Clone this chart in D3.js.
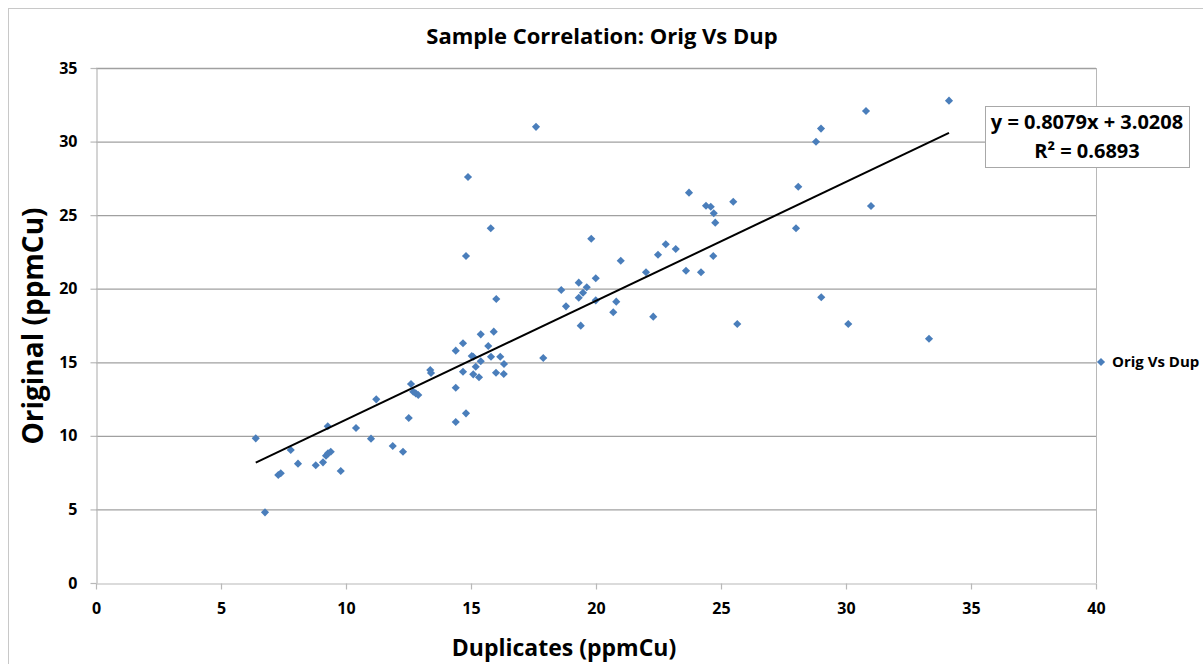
<!DOCTYPE html>
<html>
<head>
<meta charset="utf-8">
<script src="https://cdn.jsdelivr.net/npm/d3@7"></script>
<style>
  body { margin: 0; background: #fff; }
  svg text { font-family: "Open Sans", sans-serif; font-weight: bold; fill: #000; }
</style>
</head>
<body>
<div id="chart"></div>
<script>
// duplicates (x) vs original (y), ppmCu
var dupVals = [6.39, 6.76, 7.29, 7.39, 7.79, 8.08, 8.79, 9.08, 9.20, 9.28, 9.39, 9.27, 9.79, 10.40, 11.00,
    11.21, 11.87, 12.28, 12.51, 12.60, 12.69, 12.79, 12.89, 13.37, 13.40,
    15.79, 14.80, 16.01, 18.61, 18.80, 15.39, 15.91, 14.68, 14.39, 15.69, 15.03, 15.09, 15.80, 16.17, 17.89,
    15.39, 15.19, 16.32, 14.68, 16.00, 16.31, 15.09, 15.32, 14.39, 14.80, 14.39, 14.88, 17.60,
    19.81, 24.77, 22.79, 23.19, 22.48, 20.99, 24.69, 22.00, 23.60, 24.20, 19.99, 19.31, 19.63, 19.48,
    19.31, 19.99, 20.81, 20.69, 22.29, 19.39, 25.65,
    23.72, 28.09, 25.49, 24.40, 24.59, 24.71, 31.00, 28.00, 29.01, 30.09,
    34.12, 30.80, 29.00, 28.80, 33.32];
var origVals = [9.83, 4.80, 7.34, 7.46, 9.04, 8.11, 8.00, 8.20, 8.65, 8.81, 8.92, 10.65, 7.61, 10.53, 9.81,
    12.48, 9.31, 8.92, 11.21, 13.52, 13.00, 12.89, 12.78, 14.48, 14.27,
    24.11, 22.22, 19.30, 19.91, 18.80, 16.90, 17.08, 16.29, 15.79, 16.11, 15.43, 15.38, 15.38, 15.38, 15.29,
    15.07, 14.70, 14.88, 14.36, 14.29, 14.20, 14.18, 13.98, 13.27, 11.53, 10.94, 27.59, 31.00,
    23.40, 24.49, 23.02, 22.70, 22.31, 21.90, 22.22, 21.12, 21.22, 21.12, 20.71, 20.41, 20.10, 19.73,
    19.39, 19.21, 19.12, 18.40, 18.10, 17.49, 17.60,
    26.53, 26.93, 25.91, 25.64, 25.57, 25.13, 25.62, 24.11, 19.42, 17.60,
    32.78, 32.08, 30.88, 29.99, 16.60];

var xTicks = [0, 5, 10, 15, 20, 25, 30, 35, 40];
var yTicks = [0, 5, 10, 15, 20, 25, 30, 35];
var slope = 0.8079, intercept = 3.0208;
var eqLines = ["y = 0.8079x + 3.0208", "R² = 0.6893"];
var seriesName = "Orig Vs Dup";

var width = 1203, height = 664;
var mLeft = 96, mTop = 68, plotW = 1000, plotH = 515;

var svg = d3.select("#chart").append("svg")
    .attr("width", width)
    .attr("height", height);

// outer chart border
svg.append("rect")
    .attr("x", 8.5).attr("y", 8.5)
    .attr("width", width).attr("height", height + 20)
    .attr("fill", "#fff")
    .attr("stroke", "#c8c8c8");

var x = d3.scaleLinear().domain([0, 40]).range([mLeft, mLeft + plotW]);
var y = d3.scaleLinear().domain([0, 35]).range([mTop + plotH, mTop]);

// gridlines
svg.selectAll("line.grid")
    .data(yTicks.slice(1))
    .enter()
    .append("line")
    .attr("class", "grid")
    .attr("x1", mLeft).attr("x2", mLeft + plotW)
    .attr("y1", function(d){ return y(d) + 0.5; })
    .attr("y2", function(d){ return y(d) + 0.5; })
    .attr("stroke", "#a0a0a0")
    .attr("stroke-width", 1.3);

// right side of the plot area
svg.append("line")
    .attr("x1", mLeft + plotW + 0.5).attr("x2", mLeft + plotW + 0.5)
    .attr("y1", mTop).attr("y2", mTop + plotH)
    .attr("stroke", "#b8b8b8");

var xAxis = svg.append("g")
    .attr("transform", "translate(0," + (mTop + plotH + 0.5) + ")")
    .call(d3.axisBottom(x).tickValues(xTicks).tickSize(6).tickPadding(13).tickSizeOuter(0));
var yAxis = svg.append("g")
    .attr("transform", "translate(" + (mLeft + 0.5) + ",0)")
    .call(d3.axisLeft(y).tickValues(yTicks).tickSize(6).tickPadding(13).tickSizeOuter(0));

[xAxis, yAxis].forEach(function(g){
    g.selectAll("path, line").attr("stroke", "#b8b8b8").attr("stroke-width", 1.2);
    g.selectAll("text").style("font-size", "16px").style("font-family", "'Open Sans', sans-serif").style("font-weight", "bold").attr("fill", "#000");
});

// points
var pts = dupVals.map(function(d, i){ return {x: d, y: origVals[i]}; });
var diamond = d3.symbol().type(d3.symbolDiamond2).size(42);

svg.selectAll("path.pt")
    .data(pts)
    .enter()
    .append("path")
    .attr("class", "pt")
    .attr("d", diamond)
    .attr("transform", function(d){ return "translate(" + x(d.x) + "," + y(d.y) + ")"; })
    .attr("fill", "#4a7ebb");

// linear trend line over data range
var xMin = d3.min(dupVals), xMax = d3.max(dupVals);
svg.append("line")
    .attr("x1", x(xMin)).attr("y1", y(slope * xMin + intercept))
    .attr("x2", x(xMax)).attr("y2", y(slope * xMax + intercept))
    .attr("stroke", "#000")
    .attr("stroke-width", 2);

// equation box
svg.append("rect")
    .attr("x", 985.5).attr("y", 106.5)
    .attr("width", 204).attr("height", 61)
    .attr("fill", "#fff")
    .attr("stroke", "#a8a8a8");
svg.selectAll("text.eq")
    .data(eqLines)
    .enter()
    .append("text")
    .attr("class", "eq")
    .attr("x", 1087)
    .attr("y", function(d, i){ return 129 + i * 29; })
    .attr("text-anchor", "middle")
    .style("font-size", "20px")
    .text(function(d){ return d; });

// title
svg.append("text")
    .attr("x", 602).attr("y", 44)
    .attr("text-anchor", "middle")
    .style("font-size", "22px")
    .text("Sample Correlation: Orig Vs Dup");

// axis titles
svg.append("text")
    .attr("x", 564).attr("y", 656)
    .attr("text-anchor", "middle")
    .style("font-size", "23px")
    .text("Duplicates (ppmCu)");
svg.append("text")
    .attr("transform", "translate(43,326) rotate(-90)")
    .attr("text-anchor", "middle")
    .style("font-size", "28px")
    .text("Original (ppmCu)");

// legend
svg.append("path")
    .attr("d", diamond)
    .attr("transform", "translate(1101,362)")
    .attr("fill", "#4a7ebb");
svg.append("text")
    .attr("x", 1112).attr("y", 367)
    .style("font-size", "15px")
    .text(seriesName);
</script>
</body>
</html>
